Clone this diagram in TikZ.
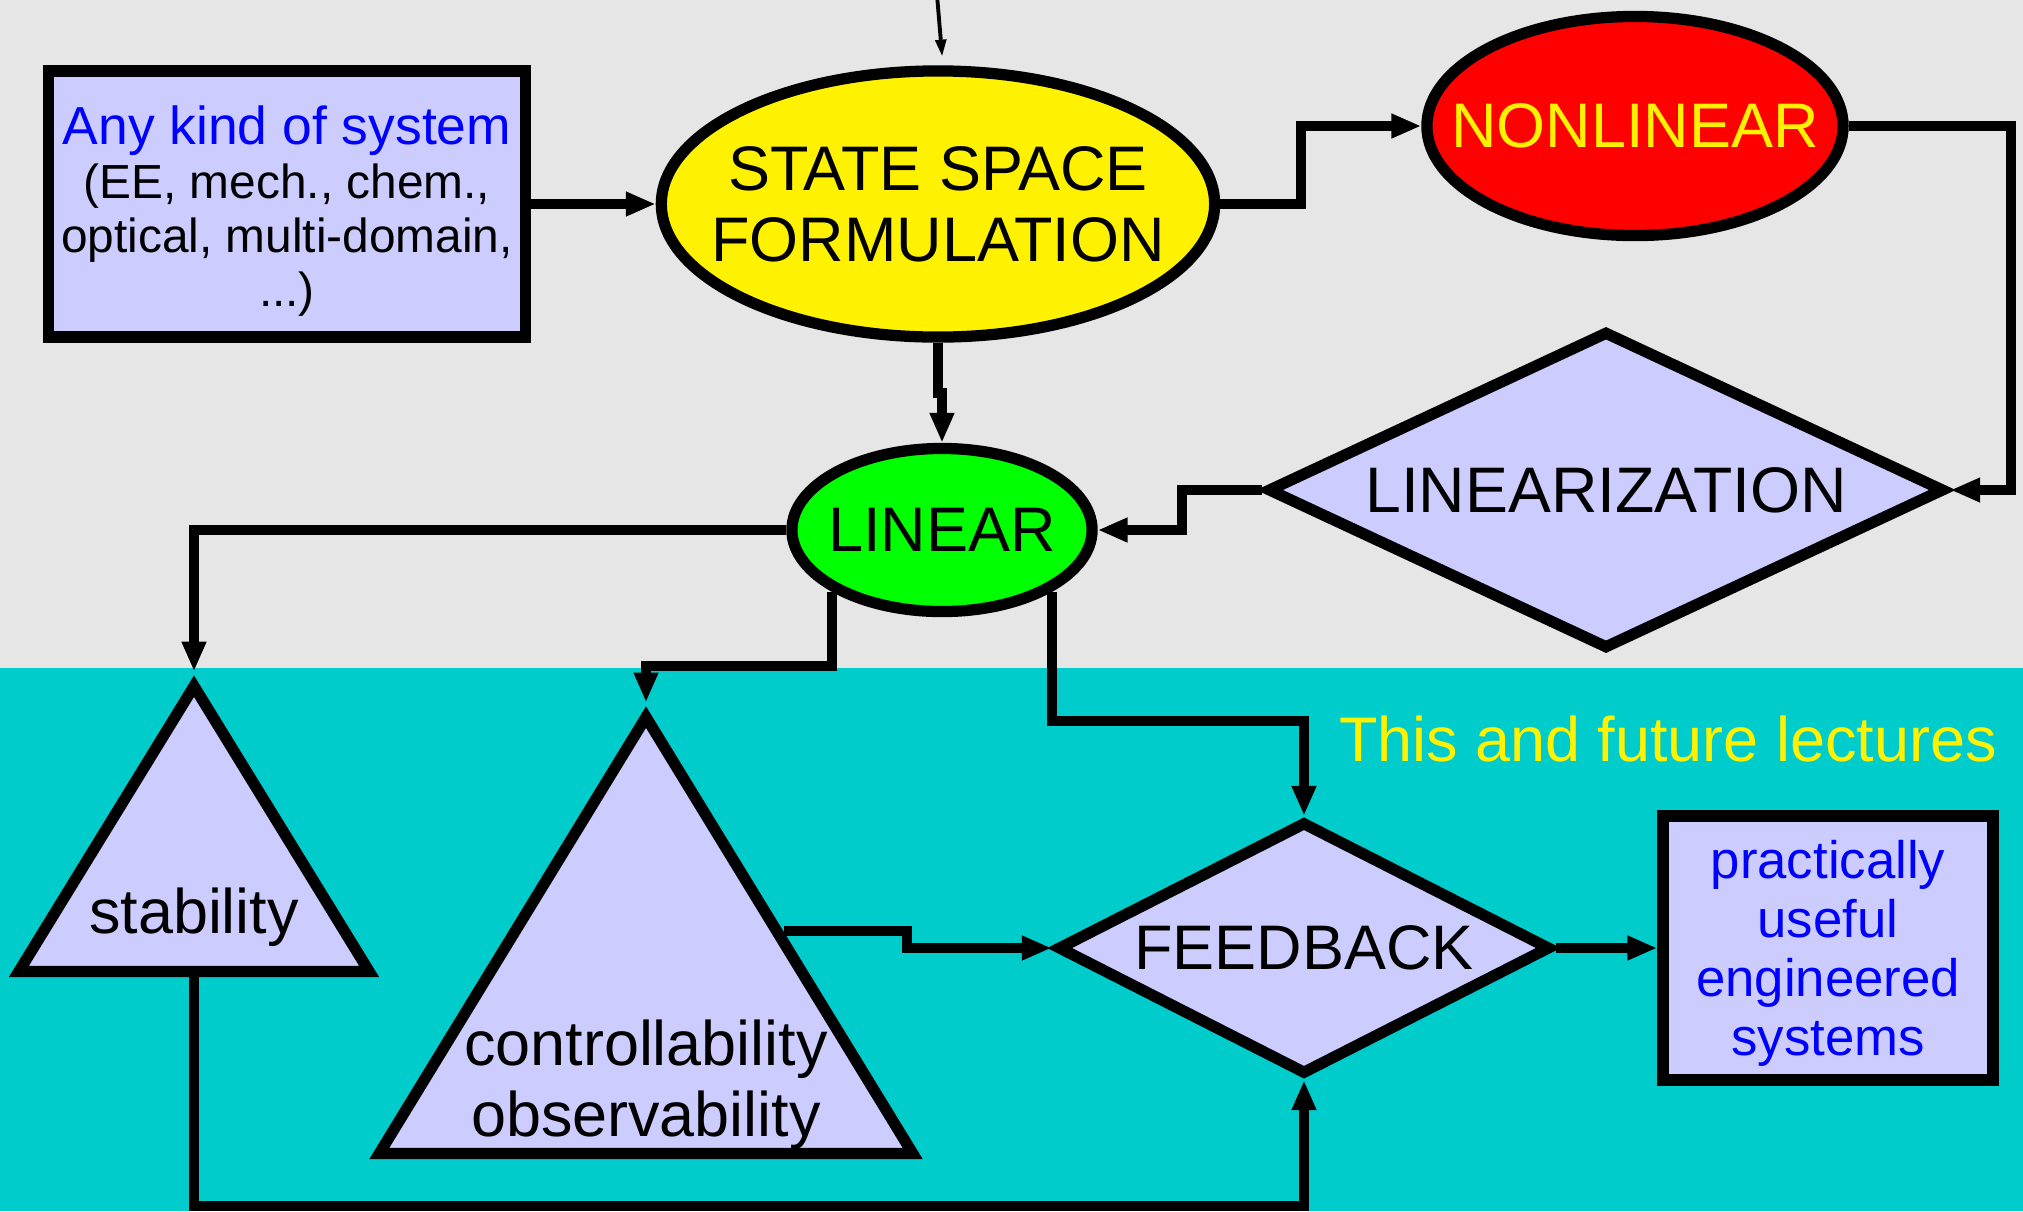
\documentclass[tikz,border=0pt]{standalone}
\usepackage{fontspec}
\setmainfont{Liberation Sans}
\usetikzlibrary{shapes.geometric,arrows.meta}
\definecolor{bggrey}{HTML}{E6E6E6}
\definecolor{bgcyan}{HTML}{00CCCC}
\definecolor{lavender}{HTML}{CCCCFF}
\newcommand{\bigtxt}{\fontsize{17.9}{20.2}\selectfont}

\begin{document}
\begin{tikzpicture}[x=0.01cm,y=-0.01cm,
	shapeline/.style={draw=black,line width=3.2pt,inner sep=0pt},
	ellnode/.style={shapeline,ellipse},
	boxnode/.style={shapeline,rectangle,fill=lavender,align=center},
	dianode/.style={shapeline,diamond,aspect=2.2,fill=lavender,font=\bigtxt},
	trinode/.style={shapeline,isosceles triangle,shape border rotate=90,
		isosceles triangle stretches,fill=lavender},
	flow/.style={line width=2.8pt,-{Triangle[length=8.5pt,width=6.5pt]}},
	lbl/.style={align=center,font=\bigtxt}]
	\fill[bggrey] (0,0) rectangle (2023,668);
	\fill[bgcyan] (0,668) rectangle (2023,1211);
	\useasboundingbox (0,0) rectangle (2023,1211);

	\node[boxnode,minimum width=4.77cm,minimum height=2.66cm,
		font=\fontsize{13.6}{15.4}\selectfont] (anyk) at (287,204)
		{\rule{0pt}{15pt}{\color{blue}\fontsize{15.2}{15.4}\selectfont Any kind of system}\\(EE, mech., chem.,\\optical, multi-domain,\\...)};
	\node[ellnode,fill=yellow,minimum width=5.53cm,minimum height=2.66cm,
		label={[lbl,name=ssftxt]center:STATE SPACE\\FORMULATION}] (ssf) at (938,204) {};
	\node[ellnode,fill=red,minimum width=4.16cm,minimum height=2.19cm,
		label={[lbl,text=yellow,name=nltxt]center:NONLINEAR}] (nonlin) at (1635,126) {};
	\node[ellnode,fill=green,minimum width=3.0cm,minimum height=1.63cm,
		label={[lbl,name=lintxt]center:LINEAR}] (lin) at (942,530) {};
	\node[dianode,minimum width=6.77cm,minimum height=3.18cm,
		font=\fontsize{18.3}{20.2}\selectfont] (lzn) at (1606,490) {LINEARIZATION};
	\node[dianode,minimum width=4.93cm,minimum height=2.53cm] (fb) at (1304,948) {FEEDBACK};
	\node[trinode,minimum width=3.50cm,minimum height=2.85cm,anchor=lower side] (stab) at (194,977) {};
	\node[trinode,minimum width=5.33cm,minimum height=4.36cm,anchor=lower side] (ctrl) at (646,1159) {};
	\node[lbl] (stabtxt) at (194,917) {stability};
	\node[lbl] (ctrltxt) at (646,1085) {controllability\\observability};
	\node[boxnode,minimum width=3.30cm,minimum height=2.64cm,text=blue,
		font=\fontsize{15}{16.8}\selectfont] (useful) at (1828,948) {\rule{0pt}{14pt}practically\\useful\\engineered\\systems};
	\node[text=yellow,font=\bigtxt,inner sep=0pt] (lect) at (1668,739) {This and future lectures};

	\coordinate (feed) at (937,-5);
	\coordinate (floor) at (0,1206);
	\draw[line width=1.1pt,shorten >=2.5pt,-{Triangle[length=4.8pt,width=3pt]}] (feed) -- ([xshift=1.4pt]ssf.north);
	\draw[flow] (anyk.east) -- (ssf.west);
	\draw[flow] (ssf.east) -- ++(81,0) |- (nonlin.west);
	\draw[flow] (nonlin.east) -- ++(162,0) |- (lzn.east);
	\draw[flow] (ssf.south) -- ++(0,50) -| (lin.north);
	\draw[flow] (lzn.west) -- ++(-80,0) |- (lin.east);
	\draw[flow] (lin.west) -| (stab.apex);
	\draw[flow] (lin.south west) -- ++(0,74) -| (ctrl.apex);
	\draw[flow] (lin.south east) -- ++(0,129) -| (fb.north);
	\draw[flow] (ctrl.right side) -- ++(123,0) |- (fb.west);
	\draw[flow] (stab.lower side) -- (stab.lower side |- floor) -| (fb.south);
	\draw[flow] (fb.east) -- (useful.west);
\end{tikzpicture}
\end{document}
